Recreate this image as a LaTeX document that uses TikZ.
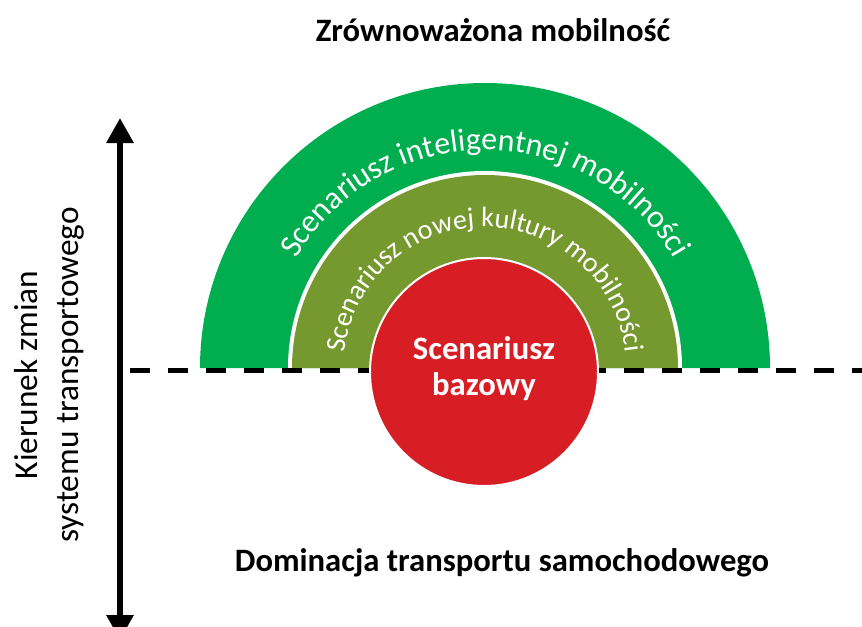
\documentclass[tikz,border=0pt]{standalone}
\usepackage{fontspec}
\setmainfont{Carlito}
\usetikzlibrary{arrows.meta, decorations.text, positioning}
\definecolor{smartgreen}{RGB}{0,173,79}
\definecolor{cultureolive}{RGB}{118,153,47}
\definecolor{basered}{RGB}{216,30,37}
\def\outerR{213.75pt}
\def\gapR{147.75pt}
\def\midR{144.75pt}
\def\baseR{85.5pt}
\def\outerText{163.5pt}
\def\innerText{105.75pt}

\begin{document}
\begin{tikzpicture}[x=0.75pt,y=0.75pt,
  heading/.style={font=\fontsize{24.5}{27}\selectfont\bfseries, align=center},
  axisarrow/.style={line width=4.5pt, {Triangle[length=18.75pt,width=19.5pt]}-{Triangle[length=18.75pt,width=19.5pt]}}]
  \useasboundingbox (0,0) rectangle (862,626);
  \coordinate (centre) at (485,258);

  %half discs
  \fill[smartgreen] ([xshift=-\outerR]centre) arc (180:0:\outerR) -- cycle;
  \fill[white] ([xshift=-\gapR]centre) arc (180:0:\gapR) -- cycle;
  \fill[cultureolive] ([xshift=-\midR]centre) arc (180:0:\midR) -- cycle;

  \coordinate (lineleft) at (130,255.5);
  \coordinate (lineright) at (862,255.5);
  \draw[dash pattern=on 15pt off 13.5pt, line width=3.75pt] (lineleft) -- (lineright);

  \fill[basered, draw=white, line width=1.5pt] (484,254) circle (\baseR);

  %texts on the arcs
  \path[decorate, decoration={text along path, text align=center,
      text={|\fontsize{24}{27}\selectfont\color{white}|Scenariusz inteligentnej mobilności}}]
    ([xshift=-\outerText]centre) arc (180:0:\outerText);
  \path[decorate, decoration={text along path, text align=center,
      text={|\fontsize{21}{24}\selectfont\color{white}|Scenariusz nowej kultury mobilności}}]
    ([xshift=-\innerText]centre) arc (180:0:\innerText);

  \node[heading, text=white] (base) at (484,257) {Scenariusz\\bazowy};
  \node[heading] (top) at (493,596) {Zrównoważona mobilność};
  \node[heading] (bottom) at (502,63) {Dominacja transportu samochodowego};

  %axis
  \coordinate (axislow) at (120,-14);
  \coordinate (axishigh) at (120,508);
  \draw[axisarrow] (axislow) -- (axishigh);
  \node[font=\fontsize{25}{31}\selectfont, align=center, rotate=90] (direction) at (49,251)
    {Kierunek zmian\\systemu transportowego};
\end{tikzpicture}
\end{document}
